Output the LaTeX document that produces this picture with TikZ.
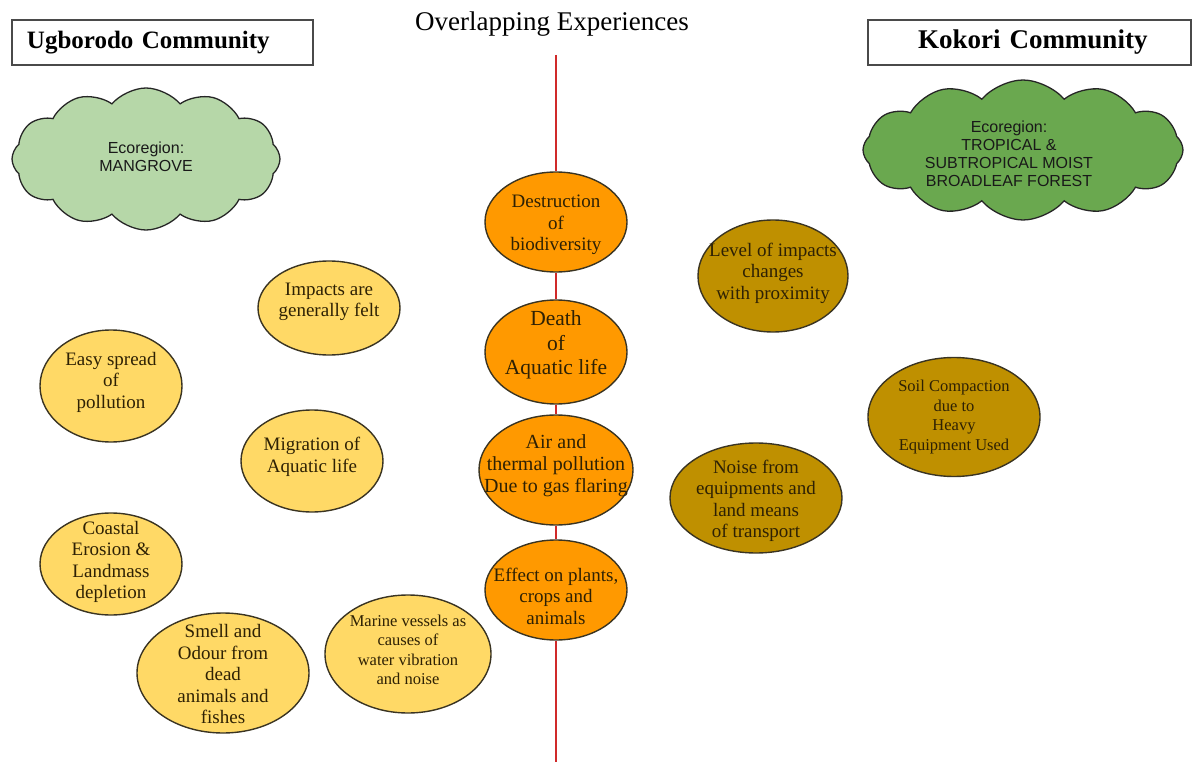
\documentclass[tikz,border=0pt]{standalone}
\usepackage{fontspec}
\setmainfont{Liberation Serif}
\newfontfamily\arialfont{Liberation Sans}
\usetikzlibrary{shapes.geometric,shapes.symbols}

\definecolor{lightleaf}{HTML}{B6D7A8}
\definecolor{deepleaf}{HTML}{6AA84F}
\definecolor{sunyellow}{HTML}{FFD966}
\definecolor{flame}{HTML}{FF9900}
\definecolor{ochre}{HTML}{BF9000}
\definecolor{inkbrown}{HTML}{2E2104}
\definecolor{rimdark}{HTML}{3A3422}
\definecolor{axisred}{HTML}{D02A2A}
\definecolor{boxgrey}{HTML}{4A4A4A}

\tikzset{
  bubble/.style={ellipse, draw=rimdark, line width=1.4pt, inner sep=0pt},
  yel/.style={bubble, fill=sunyellow},
  org/.style={bubble, fill=flame},
  och/.style={bubble, fill=ochre},
  lbl/.style={text=inkbrown, align=center, inner sep=0pt,
              font=\fontsize{19}{21.5}\selectfont},
  lblsmall/.style={lbl, font=\fontsize{16.5}{19.5}\selectfont},
  puff/.style={cloud, cloud puffs=12, cloud puff arc=100, cloud ignores aspect,
               draw=black!85, line width=1.3pt, inner sep=0pt},
  cloudtxt/.style={align=center, inner sep=0pt, text=black!90,
                   font=\arialfont\fontsize{16}{18}\selectfont},
  titlebox/.style={rectangle, draw=boxgrey, line width=1.3pt, minimum height=45pt,
                   align=left, font=\bfseries\fontsize{25}{28}\selectfont},
  axis/.style={draw=axisred, line width=1.2pt}
}

\begin{document}
\begin{tikzpicture}[x=1pt,y=-1pt]
  \useasboundingbox (0,0) rectangle (1192,762);

  % headings
  \node[anchor=base, font=\fontsize{27}{30}\selectfont] (ttl) at (552,31) {Overlapping Experiences};
  \node[titlebox, text width=271pt, inner xsep=15pt] (ubox) at (162.5,42.5) {Ugborodo Community};
  \node[titlebox, text width=303pt, inner xsep=10pt, font=\bfseries\fontsize{27}{30}\selectfont]
    (kbox) at (1029.5,42.5) {\hspace*{40pt}Kokori Community};

  % ecoregion clouds
  \node[puff, fill=lightleaf, minimum width=268pt, minimum height=142pt,
        label={[cloudtxt, yshift=2pt]center:{Ecoregion:\\MANGROVE}}] (mangrove) at (146,159) {};
  \node[puff, fill=deepleaf, minimum width=320pt, minimum height=140pt,
        label={[cloudtxt, xshift=-14pt, yshift=-4pt]center:{Ecoregion:\\TROPICAL \&\\SUBTROPICAL MOIST\\BROADLEAF FOREST}}]
        (forest) at (1023,150) {};

  % shared experiences along the divide
  \coordinate (axtop) at (556,55);
  \coordinate (axbot) at (556,762);
  \node[org, minimum width=142pt, minimum height=100pt,
        label={[lbl, yshift=-3pt]center:{Destruction\\of\\biodiversity}}] (destr) at (556,222) {};
  \node[org, minimum width=142pt, minimum height=104pt,
        label={[lbl, font=\fontsize{21.5}{24.5}\selectfont, yshift=7pt]center:{Death\\of\\Aquatic life}}] (death) at (556,352) {};
  \node[org, minimum width=154pt, minimum height=110pt,
        label={[lbl, font=\fontsize{20}{22}\selectfont, yshift=4pt]center:{Air and\\thermal pollution\\Due to gas flaring}}] (gas) at (556,470) {};
  \node[org, minimum width=142pt, minimum height=100pt,
        label={[lbl, yshift=-6pt]center:{Effect on plants,\\crops and\\animals}}] (plants) at (556,590) {};

  \draw[axis] (axtop) -- (destr) -- (death) -- (gas) -- (plants) -- (axbot);

  % Ugborodo experiences
  \node[yel, minimum width=142pt, minimum height=94pt,
        label={[lbl, yshift=6pt]center:{Impacts are\\generally felt}}] (felt) at (329,308) {};
  \node[yel, minimum width=142pt, minimum height=112pt,
        label={[lbl, yshift=4pt]center:{Easy spread\\of\\pollution}}] (spread) at (111,386) {};
  \node[yel, minimum width=142pt, minimum height=102pt,
        label={[lbl, yshift=4pt]center:{Migration of\\Aquatic life}}] (migr) at (312,461) {};
  \node[yel, minimum width=142pt, minimum height=102pt,
        label={[lbl, yshift=2pt]center:{Coastal\\Erosion \&\\Landmass\\depletion}}] (coast) at (111,564) {};
  \node[yel, minimum width=172pt, minimum height=120pt,
        label={[lbl, yshift=-1pt]center:{Smell and\\Odour from\\dead\\animals and\\fishes}}] (smell) at (223,673) {};
  \node[yel, minimum width=166pt, minimum height=118pt,
        label={[lblsmall, yshift=4pt]center:{Marine vessels as\\causes of\\water vibration\\and noise}}] (marine) at (408,654) {};

  % Kokori experiences
  \node[och, minimum width=150pt, minimum height=112pt,
        label={[lbl, yshift=3pt]center:{Level of impacts\\changes\\with proximity}}] (level) at (773,276) {};
  \node[och, minimum width=172pt, minimum height=119pt,
        label={[lblsmall]center:{Soil Compaction\\due to\\Heavy\\Equipment Used}}] (soil) at (954,417) {};
  \node[och, minimum width=172pt, minimum height=110pt,
        label={[lbl, yshift=-3pt]center:{Noise from\\equipments and\\land means\\of transport}}] (noise) at (756,498) {};
\end{tikzpicture}
\end{document}
